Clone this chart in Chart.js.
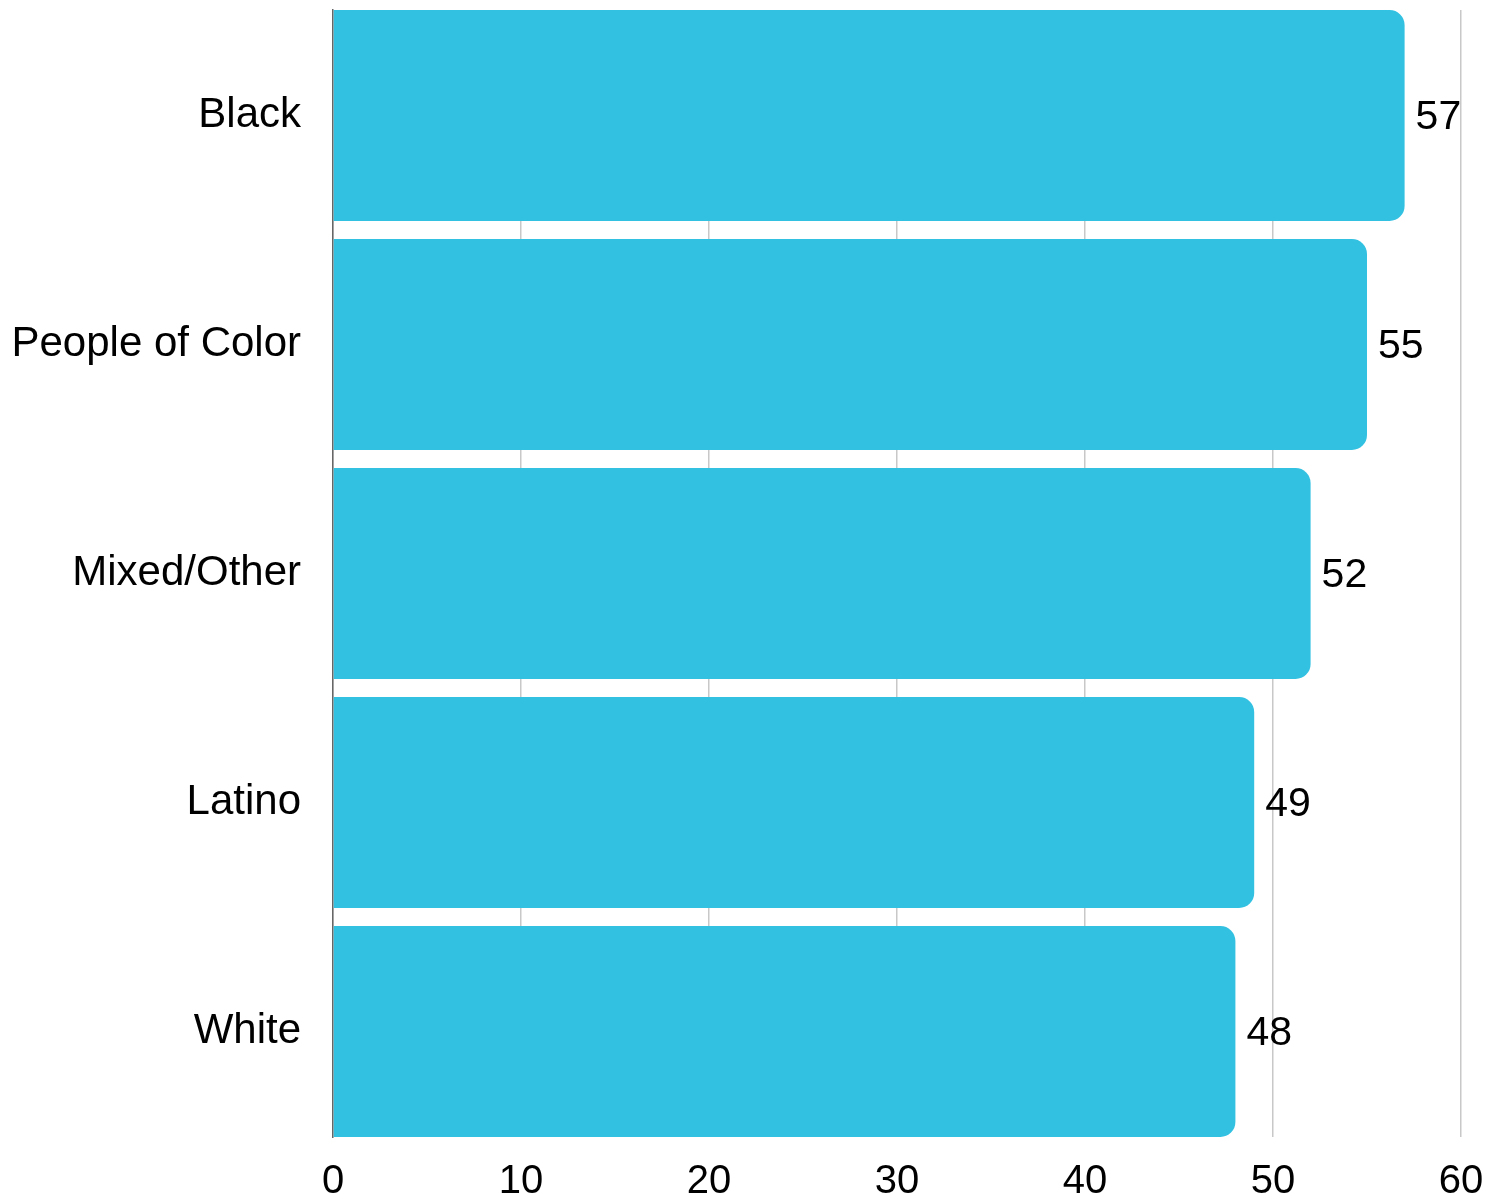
<!DOCTYPE html>
<html>
<head>
<meta charset="utf-8">
<script src="https://cdn.jsdelivr.net/npm/chart.js@4"></script>
<style>
  html, body { margin: 0; padding: 0; background: #fff; }
  #wrap { width: 1502px; height: 1197px; }
</style>
</head>
<body>
<div id="wrap"><canvas id="chart" width="1502" height="1197"></canvas></div>
<script>
// values
const groups = ['Black', 'People of Color', 'Mixed/Other', 'Latino', 'White'];
const shares = [57, 55, 52, 49, 48];
const xTicks = [0, 10, 20, 30, 40, 50, 60];

const FONT = "'Liberation Sans', Arial, sans-serif";

// write the value just past the end of each bar
const valueLabels = {
  id: 'valueLabels',
  afterDatasetsDraw(chart) {
    const ctx = chart.ctx;
    const meta = chart.getDatasetMeta(0);
    ctx.save();
    ctx.font = `41px ${FONT}`;
    ctx.fillStyle = '#000';
    ctx.textAlign = 'left';
    ctx.textBaseline = 'middle';
    meta.data.forEach((bar, i) => {
      ctx.fillText(String(shares[i]), bar.x + 11, bar.y + 2);
    });
    ctx.restore();
  }
};

// bars in the original reach a little past the grid at top and bottom
const edge = 0.5 - 9 / 229;

new Chart(document.getElementById('chart'), {
  type: 'bar',
  data: {
    labels: groups,
    datasets: [{
      data: shares,
      backgroundColor: '#33C1E2',
      borderRadius: 15,
      barPercentage: 1,
      categoryPercentage: 0.921
    }]
  },
  options: {
    indexAxis: 'y',
    responsive: false,
    animation: false,
    layout: { padding: { top: 10, right: 41, left: 0, bottom: 0 } },
    plugins: { legend: { display: false }, tooltip: { enabled: false } },
    scales: {
      x: {
        min: 0,
        max: 60,
        afterBuildTicks(scale) { scale.ticks = xTicks.map(v => ({ value: v })); },
        afterFit(scale) { scale.height = 60; scale.paddingLeft = 0; scale.paddingRight = 0; },
        grid: { color: '#c8c8c8', lineWidth: 1.5, drawTicks: false },
        border: { display: false },
        ticks: { color: '#000', font: { family: FONT, size: 40 }, padding: 21, maxRotation: 0 }
      },
      y: {
        offset: false,
        afterBuildTicks(scale) {
          scale._startValue = -edge;
          scale._valueRange = groups.length - 1 + 2 * edge;
        },
        afterFit(scale) { scale.width = 333; scale.paddingTop = 0; scale.paddingBottom = 0; },
        grid: { display: false, drawTicks: false },
        border: { display: true, color: '#666', width: 1.5 },
        ticks: { color: '#000', font: { family: FONT, size: 42 }, padding: 32 }
      }
    }
  },
  plugins: [valueLabels]
});
</script>
</body>
</html>
